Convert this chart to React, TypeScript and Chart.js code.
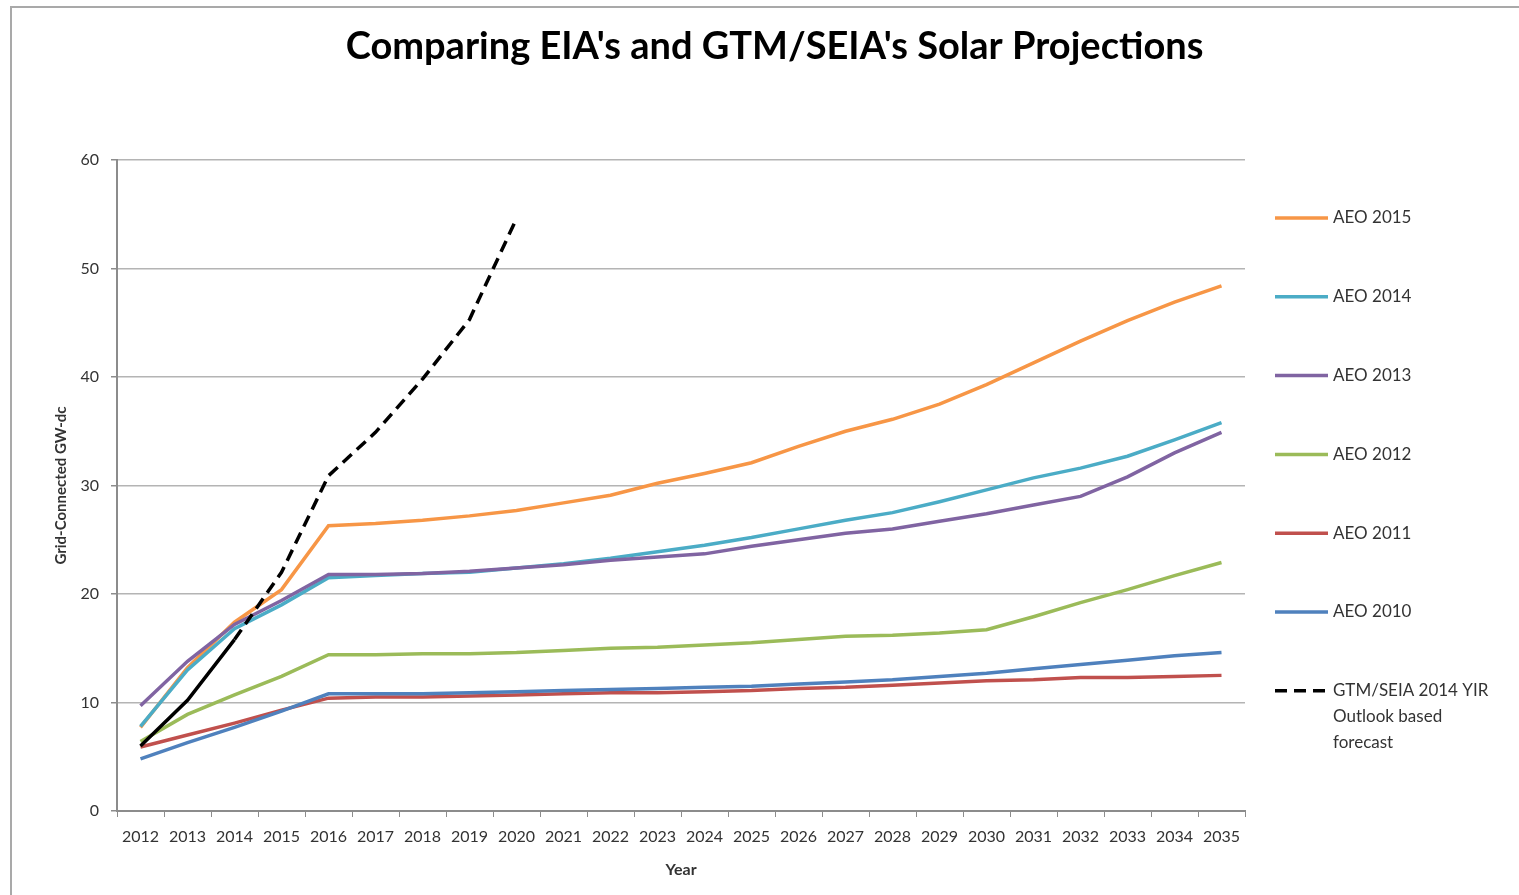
import React, { useEffect, useRef } from "react";
import { Chart, registerables } from "chart.js";

Chart.register(...registerables);

const years = [
  "2012", "2013", "2014", "2015", "2016", "2017", "2018", "2019", "2020", "2021", "2022", "2023",
  "2024", "2025", "2026", "2027", "2028", "2029", "2030", "2031", "2032", "2033", "2034", "2035",
];

const aeo2015 = [7.7, 13.2, 17.4, 20.4, 26.3, 26.5, 26.8, 27.2, 27.7, 28.4, 29.1, 30.2, 31.1, 32.1, 33.6, 35.0, 36.1, 37.5, 39.3, 41.3, 43.3, 45.2, 46.9, 48.4];
const aeo2014 = [7.8, 13.0, 16.8, 19.0, 21.5, 21.7, 21.9, 22.0, 22.4, 22.8, 23.3, 23.9, 24.5, 25.2, 26.0, 26.8, 27.5, 28.5, 29.6, 30.7, 31.6, 32.7, 34.2, 35.8];
const aeo2013 = [9.7, 13.8, 17.2, 19.4, 21.8, 21.8, 21.9, 22.1, 22.4, 22.7, 23.1, 23.4, 23.7, 24.4, 25.0, 25.6, 26.0, 26.7, 27.4, 28.2, 29.0, 30.8, 33.0, 34.9];
const aeo2012 = [6.4, 8.9, 10.7, 12.4, 14.4, 14.4, 14.5, 14.5, 14.6, 14.8, 15.0, 15.1, 15.3, 15.5, 15.8, 16.1, 16.2, 16.4, 16.7, 17.9, 19.2, 20.4, 21.7, 22.9];
const aeo2011 = [5.9, 7.0, 8.1, 9.3, 10.4, 10.5, 10.5, 10.6, 10.7, 10.8, 10.9, 10.9, 11.0, 11.1, 11.3, 11.4, 11.6, 11.8, 12.0, 12.1, 12.3, 12.3, 12.4, 12.5];
const aeo2010 = [4.8, 6.3, 7.7, 9.2, 10.8, 10.8, 10.8, 10.9, 11.0, 11.1, 11.2, 11.3, 11.4, 11.5, 11.7, 11.9, 12.1, 12.4, 12.7, 13.1, 13.5, 13.9, 14.3, 14.6];
const gtmSeia = [6.0, 10.2, 15.8, 22.0, 30.9, 34.9, 39.8, 45.3, 54.6, null, null, null, null, null, null, null, null, null, null, null, null, null, null, null];

const seriesLabels = ["AEO 2015", "AEO 2014", "AEO 2013", "AEO 2012", "AEO 2011", "AEO 2010", "GTM/SEIA 2014 YIR\nOutlook based\nforecast"];
const seriesColors = ["#F79646", "#4BACC6", "#8064A2", "#9BBB59", "#C0504D", "#4F81BD", "#000000"];
const seriesData = [aeo2015, aeo2014, aeo2013, aeo2012, aeo2011, aeo2010, gtmSeia];

const titleText = "Comparing EIA's and GTM/SEIA's Solar Projections";
const yTitle = "Grid-Connected GW-dc";
const xTitle = "Year";

const yMin = 0;
const yMax = 60;
const yStep = 10;

const FONT = "Lato, 'Open Sans', sans-serif";

const titlePlugin = {
  id: "centeredTitle",
  afterDraw(chart: any) {
    const { ctx } = chart;
    ctx.save();
    ctx.font = `bold 38px ${FONT}`;
    ctx.fillStyle = "#000000";
    ctx.textAlign = "center";
    ctx.textBaseline = "middle";
    ctx.fillText(titleText, chart.width / 2 + 15, 47);
    ctx.restore();
  },
};

const legendPlugin = {
  id: "sideLegend",
  afterDraw(chart: any) {
    const { ctx, chartArea } = chart;
    ctx.save();
    ctx.font = `17px ${FONT}`;
    ctx.textBaseline = "middle";
    ctx.textAlign = "left";
    chart.data.datasets.forEach((ds: any, i: number) => {
      const y = chartArea.top + 58 + i * 78.8;
      const x0 = chartArea.right + 30;
      ctx.beginPath();
      ctx.strokeStyle = ds.borderColor;
      ctx.lineWidth = ds.borderWidth;
      ctx.setLineDash(ds.borderDash || []);
      ctx.moveTo(x0, y);
      ctx.lineTo(x0 + 53, y);
      ctx.stroke();
      ctx.setLineDash([]);
      ctx.fillStyle = "#333333";
      String(ds.label)
        .split("\n")
        .forEach((line: string, j: number) => {
          ctx.fillText(line, x0 + 58, y + j * 26);
        });
    });
    ctx.restore();
  },
};

export default function App() {
  const ref = useRef<HTMLCanvasElement>(null);

  useEffect(() => {
    const n = seriesData.length;
    const datasets = seriesData.map((data, i) => {
      const isGtm = i === n - 1;
      return {
        label: seriesLabels[i],
        data,
        borderColor: seriesColors[i],
        backgroundColor: seriesColors[i],
        borderWidth: 3.5,
        pointRadius: 0,
        tension: 0,
        fill: false,
        spanGaps: false,
        order: n - 1 - i,
        borderDash: isGtm ? [12, 7] : [],
        segment: isGtm
          ? { borderDash: (c: any) => (c.p0DataIndex < 2 ? [] : undefined) }
          : undefined,
      };
    });

    const chart = new Chart(ref.current!, {
      type: "line",
      data: { labels: years, datasets: datasets as any },
      options: {
        animation: false,
        responsive: false,
        layout: { padding: { left: 48, right: 274, top: 160, bottom: 10 } },
        plugins: {
          legend: { display: false },
          tooltip: { enabled: false },
          title: { display: false },
        },
        scales: {
          x: {
            type: "category",
            offset: true,
            afterFit: (s: any) => {
              s.height = 74;
            },
            grid: {
              display: true,
              drawOnChartArea: false,
              drawTicks: true,
              tickLength: 6,
              color: "#8c8c8c",
              tickColor: "#8c8c8c",
              offset: true,
            },
            border: { display: true, color: "#8c8c8c", width: 2 },
            ticks: {
              font: { family: FONT, size: 16 },
              color: "#333333",
              maxRotation: 0,
              autoSkip: false,
              padding: 10,
            },
            title: {
              display: true,
              text: xTitle,
              font: { family: FONT, size: 16, weight: "bold" },
              color: "#333333",
              padding: { top: 4, bottom: 6 },
            },
          },
          y: {
            min: yMin,
            max: yMax,
            afterFit: (s: any) => {
              s.width = 69;
            },
            ticks: {
              stepSize: yStep,
              font: { family: FONT, size: 16 },
              color: "#333333",
              padding: 12,
            },
            grid: {
              color: "#b4b4b4",
              lineWidth: 1.5,
              tickLength: 6,
              tickColor: "#8c8c8c",
            },
            border: { display: true, color: "#8c8c8c", width: 2 },
            title: {
              display: true,
              text: yTitle,
              font: { family: FONT, size: 15, weight: "bold" },
              color: "#333333",
              padding: { top: 4, bottom: 4 },
            },
          },
        },
      },
      plugins: [titlePlugin, legendPlugin],
    });
    return () => chart.destroy();
  }, []);

  return (
    <div style={{ position: "fixed", left: 0, top: 0, width: 1519, height: 895, background: "#ffffff" }}>
      <div
        style={{
          position: "absolute",
          left: 10,
          top: 6,
          right: 0,
          bottom: 0,
          borderTop: "2px solid #a9a9a9",
          borderLeft: "2px solid #a9a9a9",
        }}
      />
      <canvas ref={ref} width={1519} height={895} style={{ position: "absolute", left: 0, top: 0, display: "block" }} />
    </div>
  );
}
